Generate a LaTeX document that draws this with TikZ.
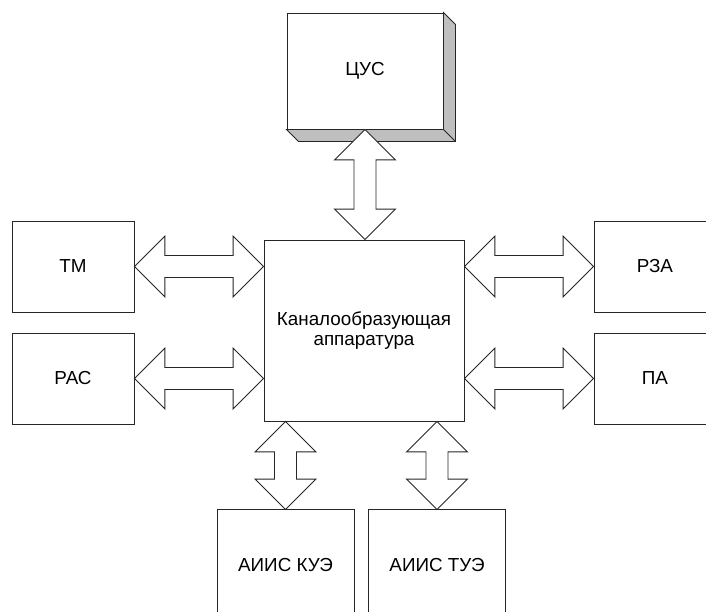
\documentclass[tikz,border=0pt]{standalone}
\usepackage{fontspec}
\setmainfont{Liberation Sans}
\usetikzlibrary{positioning, calc}

% fat double arrows between two points
\newcommand{\fhl}{0.76cm}
\newcommand{\fhw}{0.76cm}
\newcommand{\fsw}{0.275cm}
\newcommand{\hfat}[2]{%
  \draw[dblarrow] let \p1=(#1), \p2=(#2) in
    (\x1,\y1) -- ({\x1+\fhl},{\y1+\fhw}) -- ({\x1+\fhl},{\y1+\fsw})
    -- ({\x2-\fhl},{\y1+\fsw}) -- ({\x2-\fhl},{\y1+\fhw}) -- (\x2,\y1)
    -- ({\x2-\fhl},{\y1-\fhw}) -- ({\x2-\fhl},{\y1-\fsw})
    -- ({\x1+\fhl},{\y1-\fsw}) -- ({\x1+\fhl},{\y1-\fhw}) -- cycle;}
\newcommand{\vfat}[2]{%
  \draw[dblarrow] let \p1=(#1), \p2=(#2) in
    (\x1,\y1) -- ({\x1+\fhw},{\y1-\fhl}) -- ({\x1+\fsw},{\y1-\fhl})
    -- ({\x1+\fsw},{\y2+\fhl}) -- ({\x1+\fhw},{\y2+\fhl}) -- (\x1,\y2)
    -- ({\x1-\fhw},{\y2+\fhl}) -- ({\x1-\fsw},{\y2+\fhl})
    -- ({\x1-\fsw},{\y1-\fhl}) -- ({\x1-\fhw},{\y1-\fhl}) -- cycle;}

\begin{document}
\begin{tikzpicture}[
    block/.style={rectangle, draw=black!85, fill=white, line width=0.7pt, minimum width=3.05cm, minimum height=2.275cm, inner sep=0pt, align=center, font=\fontsize{13.4}{14.4}\selectfont},
    topbox/.style={block, minimum width=3.9cm, minimum height=2.9cm},
    mainbox/.style={block, minimum width=5cm, minimum height=4.525cm},
    lowbox/.style={block, minimum width=3.425cm, minimum height=2.75cm},
    sideface/.style={fill=black!25, draw=black!85, line width=0.7pt},
    dblarrow/.style={draw=black!85, fill=white, line width=0.7pt}
]
    \useasboundingbox (-9.1,-7.0125) rectangle (8.55,8.2625);
    \clip (-9.1,-7.0125) rectangle (8.55,8.2625);

    \node[mainbox] (kan) at (0,0) {Каналообразующая\\аппаратура};
    \node[topbox, above=2.75cm of kan, xshift=0.025cm] (cus) {ЦУС};
    \node[block, left=3.225cm of kan, yshift=1.6cm] (tm) {ТМ};
    \node[block, left=3.225cm of kan, yshift=-1.2cm] (rac) {РАС};
    \node[block, right=3.225cm of kan, yshift=1.6cm] (rza) {РЗА};
    \node[block, right=3.225cm of kan, yshift=-1.2cm] (pa) {ПА};
    \node[lowbox, below=2.2cm of kan, xshift=-1.9625cm] (kue) {АИИС КУЭ};
    \node[lowbox, below=2.2cm of kan, xshift=1.825cm] (tue) {АИИС ТУЭ};

    % 3D faces of the top box
    \draw[sideface] (cus.north east) -- ++(0.3,-0.3) -- ($(cus.south east)+(0.3,-0.3)$)
        -- ($(cus.south west)+(0.3,-0.3)$) -- (cus.south west) -- (cus.south east) -- cycle;
    \draw[sideface] (cus.south east) -- ++(0.3,-0.3);

    % Connections
    \vfat{cus.south}{cus.south |- kan.north}
    \hfat{tm.east}{kan.west |- tm.east}
    \hfat{rac.east}{kan.west |- rac.east}
    \hfat{kan.east |- rza.west}{rza.west}
    \hfat{kan.east |- pa.west}{pa.west}
    \vfat{kue.north |- kan.south}{kue.north}
    \vfat{tue.north |- kan.south}{tue.north}
\end{tikzpicture}
\end{document}
